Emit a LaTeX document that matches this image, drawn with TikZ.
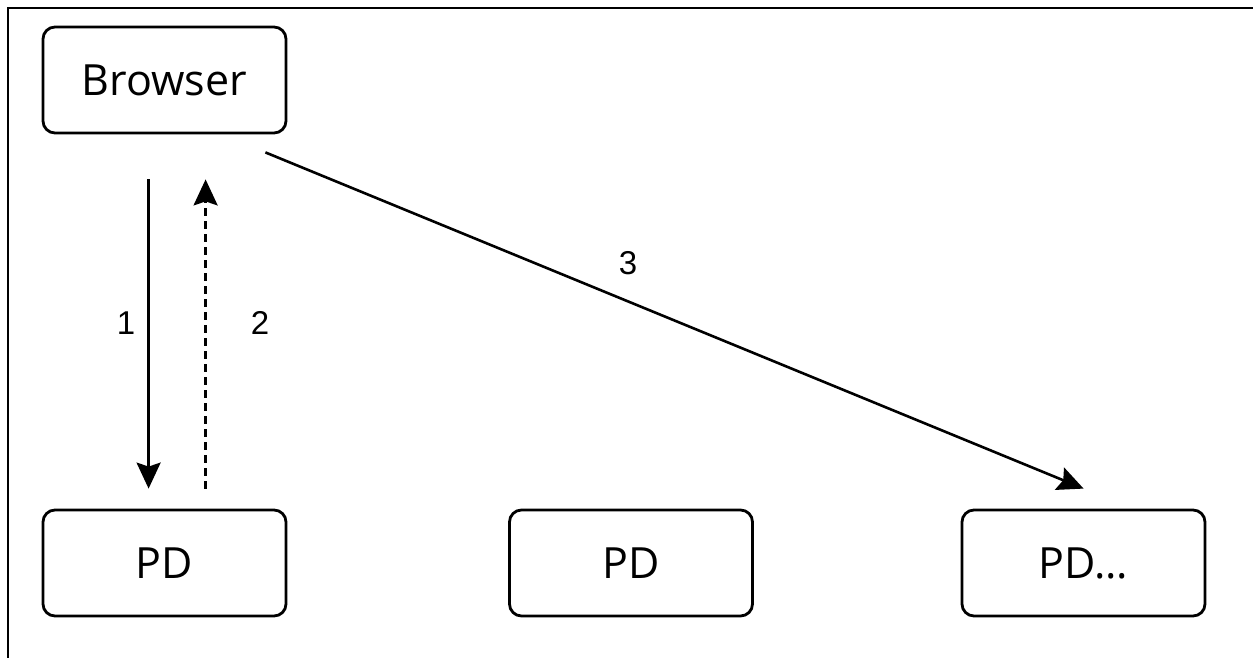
\documentclass[tikz,border=0pt]{standalone}
\usepackage{fontspec}
\setmainfont{Open Sans}
\newfontfamily\numfont{Liberation Sans}
\usetikzlibrary{arrows.meta}

\begin{document}
\begin{tikzpicture}[x=1pt,y=-1pt,
    box/.style={draw,line width=2.8pt,rounded corners=12pt,minimum width=243pt,minimum height=106pt,font=\fontsize{43}{50}\selectfont,inner sep=0pt},
    link/.style={line width=2.6pt,-{Stealth[length=26pt,width=24pt,inset=4pt]}},
    num/.style={font=\numfont\fontsize{33}{40}\selectfont}]
    \useasboundingbox (0,0) rectangle (1253,658);
    %--- frame ---
    \draw[line width=2.4pt] (8,658) -- (8,8) -- (1253,8);
    %--- boxes ---
    \node[box] (browser) at (164.5,80) {Browser};
    \node[box] (pd1) at (164.5,563) {PD};
    \node[box] (pd2) at (631,563) {PD};
    \node[box] (pd3) at (1083.5,563) {PD...};
    %--- requests ---
    \draw[link] ([xshift=107pt,yshift=-45pt]browser.south west) -- ([xshift=107pt,yshift=20pt]pd1.north west);
    \draw[link,dash pattern=on 8pt off 5pt] ([xshift=164pt,yshift=20pt]pd1.north west) -- ([xshift=164pt,yshift=-45pt]browser.south west);
    \draw[link] ([xshift=-22pt,yshift=-18pt]browser.south east) -- ([xshift=123pt,yshift=20pt]pd3.north west);
    %--- numbers ---
    \node[num] (lbl1) at (126,323) {1};
    \node[num] (lbl2) at (260,323) {2};
    \node[num] (lbl3) at (628,263) {3};
\end{tikzpicture}
\end{document}
